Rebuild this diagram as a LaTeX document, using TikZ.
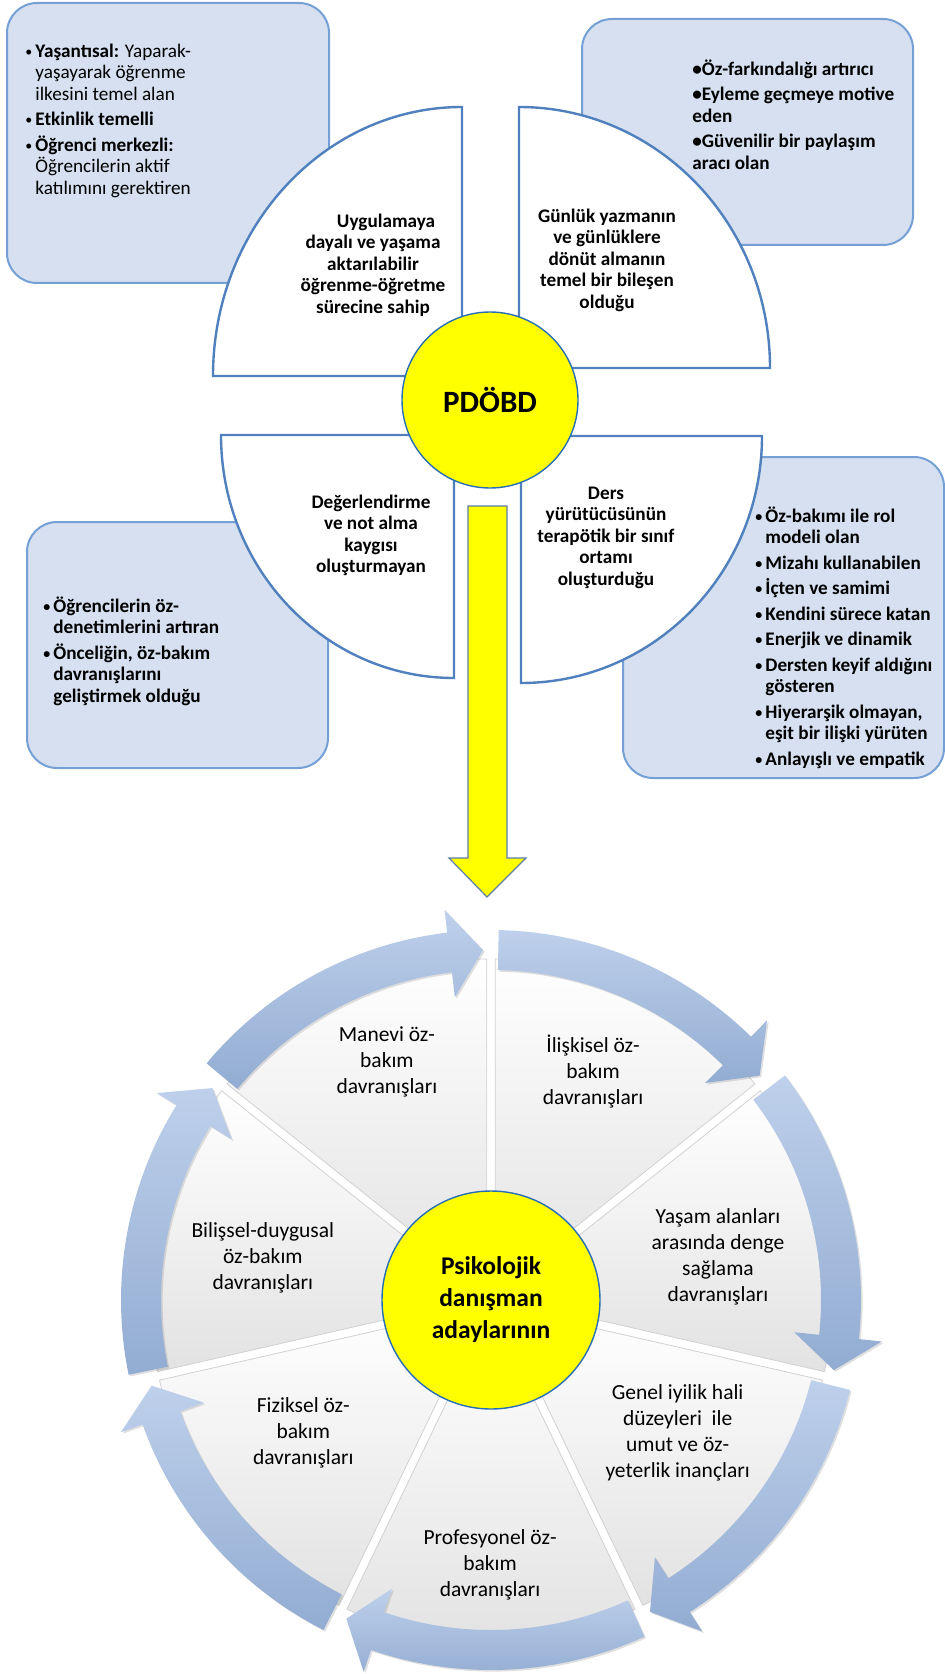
\documentclass[tikz,border=0pt]{standalone}
\usepackage{fontspec}
\setmainfont{Carlito}
\usetikzlibrary{shadows}
\definecolor{boxfill}{RGB}{214,224,240}
\definecolor{boxline}{RGB}{116,160,214}
\definecolor{quarterline}{RGB}{80,128,190}
\definecolor{hubyellow}{RGB}{255,255,0}
\definecolor{hubline}{RGB}{40,110,180}
\definecolor{yellowline}{RGB}{95,125,165}
\definecolor{arrowlight}{RGB}{190,208,235}
\definecolor{arrowdark}{RGB}{146,172,210}
\definecolor{sectorgray}{RGB}{226,226,226}
\newcommand{\bitem}{\makebox[5pt][l]{\fontsize{7pt}{7pt}\selectfont\raisebox{0.4pt}{•}}}
\newcommand{\bcont}{\hspace*{5pt}}
\newcommand{\boxfont}{\fontsize{9.6pt}{10.75pt}\selectfont}
\newcommand{\cyclefont}{\fontsize{10.75pt}{13pt}\selectfont}
\newcommand{\hubfont}{\fontsize{12.75pt}{16pt}\selectfont\bfseries}
\begin{document}
\begin{tikzpicture}[x=0.5pt, y=0.5pt,
    infobox/.style={fill=boxfill, draw=boxline, line width=1pt, rounded corners=15pt},
    quarter/.style={fill=white, draw=quarterline, line width=1.2pt},
    boxtext/.style={inner sep=0pt, align=left, font=\boxfont},
    quartertext/.style={inner sep=0pt, align=center, font=\boxfont\bfseries},
    hub/.style={circle, fill=hubyellow, draw=hubline, line width=0.7pt, inner sep=0pt, align=center},
    sector/.style={top color=white, bottom color=sectorgray, draw=black!18, line width=0.4pt},
    cyclearrow/.style={top color=arrowlight, bottom color=arrowdark,
      drop shadow={shadow xshift=0.8pt, shadow yshift=-0.8pt, opacity=0.25}},
    cycletext/.style={inner sep=0pt, align=center, font=\cyclefont}]
  \useasboundingbox (0,0) rectangle (945,-1674);

  \draw[infobox] (7,-3) rectangle (329,-283);
  \draw[infobox] (582,-19) rectangle (913,-245);
  \draw[infobox] (27,-522) rectangle (328,-768);
  \draw[infobox] (623,-457) rectangle (944,-778);

  \node[boxtext, anchor=west] (yasantisal) at (25,-120.5)
    {\bitem\textbf{Yaşantısal:} Yaparak-\\ \bcont yaşayarak öğrenme\\ \bcont ilkesini temel alan\\[2pt]
     \bitem\textbf{Etkinlik temelli}\\[2pt]
     \bitem\textbf{Öğrenci merkezli:}\\ \bcont Öğrencilerin aktif\\ \bcont katılımını gerektiren};
  \node[boxtext, font=\boxfont\bfseries, anchor=west] (farkindalik) at (692,-114.5)
    {•Öz-farkındalığı artırıcı\\[2pt] •Eyleme geçmeye motive\\ eden\\[2pt] •Güvenilir bir paylaşım\\ aracı olan};
  \node[boxtext, font=\boxfont\bfseries, anchor=west] (denetim) at (43,-651)
    {\bitem Öğrencilerin öz-\\ \bcont denetimlerini artıran\\[2pt]
     \bitem Önceliğin, öz-bakım\\ \bcont davranışlarını\\ \bcont geliştirmek olduğu};
  \node[boxtext, font=\boxfont\bfseries, anchor=west] (rolmodel) at (755,-637.5)
    {\bitem Öz-bakımı ile rol\\ \bcont modeli olan\\[2pt]
     \bitem Mizahı kullanabilen\\[2pt]
     \bitem İçten ve samimi\\[2pt]
     \bitem Kendini sürece katan\\[2pt]
     \bitem Enerjik ve dinamik\\[2pt]
     \bitem Dersten keyif aldığını\\ \bcont gösteren\\[2pt]
     \bitem Hiyerarşik olmayan,\\ \bcont eşit bir ilişki yürüten\\[2pt]
     \bitem Anlayışlı ve empatik};

  \draw[quarter] (462,-376) -- (462,-107) arc[start angle=90, end angle=180, x radius=249, y radius=269] -- cycle;
  \draw[quarter] (519,-368) -- (770,-368) arc[start angle=0, end angle=90, x radius=251, y radius=261] -- cycle;
  \draw[quarter] (454,-435) -- (221,-435) arc[start angle=180, end angle=270, x radius=233, y radius=243] -- cycle;
  \draw[quarter] (521,-436) -- (521,-683) arc[start angle=270, end angle=360, x radius=241, y radius=247] -- cycle;

  \node[quartertext] (uygulama) at (373,-265)
    {\hspace*{13pt}Uygulamaya\\dayalı ve yaşama\\aktarılabilir\\öğrenme-öğretme\\sürecine sahip};
  \node[quartertext] (gunluk) at (607,-260)
    {Günlük yazmanın\\ve günlüklere\\dönüt almanın\\temel bir bileşen\\olduğu};
  \node[quartertext] (degerlendirme) at (371,-535.5)
    {Değerlendirme\\ve not alma\\kaygısı\\oluşturmayan};
  \node[quartertext] (ders) at (606,-537.5)
    {Ders\\yürütücüsünün\\terapötik bir sınıf\\ortamı\\oluşturduğu};

  \node[hub, minimum size=88pt, font=\fontsize{15.5pt}{18pt}\selectfont\bfseries] (pdobd) at (490,-400) {PDÖBD};

  \draw[fill=hubyellow, draw=yellowline, line width=0.6pt]
    (468,-506) -- (507,-506) -- (507,-858) -- (526,-858) -- (487,-897) -- (449,-858) -- (468,-858) -- cycle;

  \begin{scope}[shift={(491,-1300)}]
    \foreach \k in {0,...,6}{
      \pgfmathsetmacro{\secstart}{90-\k*360/7}
      \pgfmathsetmacro{\secend}{\secstart-360/7}
      \pgfmathsetmacro{\secmid}{\secstart-180/7}
      \path[sector, shift={(\secmid:10)}] (0,0) -- (\secstart:332)
        arc[start angle=\secstart, end angle=\secend, radius=332] -- cycle;
    }
    \foreach \k in {0,...,6}{
      \pgfmathsetmacro{\tailang}{90-\k*360/7-1.2}
      \pgfmathsetmacro{\tipang}{90-(\k+1)*360/7+1.3}
      \pgfmathsetmacro{\headang}{\tipang+5.5}
      \path[cyclearrow] (\tailang:370) arc[start angle=\tailang, end angle=\headang, radius=370]
        -- (\headang:393) -- (\tipang:350) -- (\headang:305) -- (\headang:330)
        arc[start angle=\headang, end angle=\tailang, radius=330] -- cycle;
    }
    \foreach \ang/\rad/\nm/\txt in {
        65.9/250/iliskisel/{İlişkisel öz-\\bakım\\davranışları},
        10.7/231/yasam/{Yaşam alanları\\arasında denge\\sağlama\\davranışları},
        -35.4/229/genel/{Genel iyilik hali\\düzeyleri\ \ ile\\umut ve öz-\\yeterlik inançları},
        -90.2/265/profesyonel/{Profesyonel öz-\\bakım\\davranışları},
        -144.7/230/fiziksel/{Fiziksel öz-\\bakım\\davranışları},
        169.6/232/bilissel/{Bilişsel-duygusal\\öz-bakım\\davranışları},
        113.6/260/manevi/{Manevi öz-\\bakım\\davranışları}}{
      \node[cycletext] (\nm) at (\ang:\rad) {\txt};
    }
    \node[hub, minimum size=109pt, font=\hubfont] (adaylar) at (0,0) {Psikolojik\\danışman\\adaylarının};
  \end{scope}
\end{tikzpicture}
\end{document}
